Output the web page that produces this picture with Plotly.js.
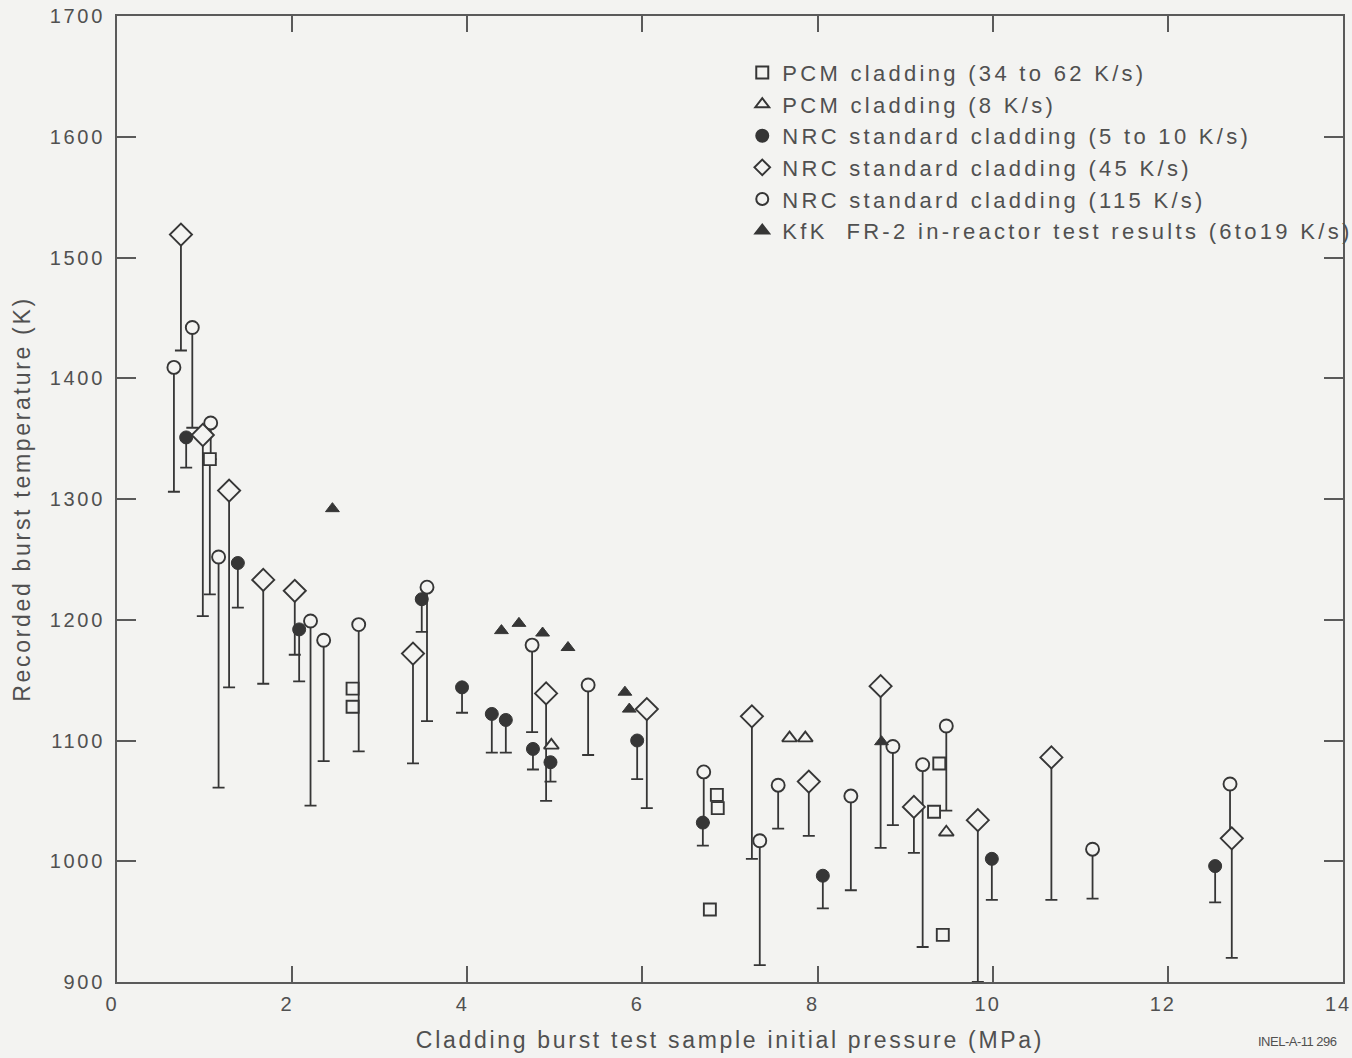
<!DOCTYPE html>
<html>
<head>
<meta charset="utf-8">
<script src="https://cdn.plot.ly/plotly-3.0.1.min.js"></script>
<style>
  html, body { margin: 0; padding: 0; background: #f3f3f1; }
  svg text { letter-spacing: 2.7px; }
  svg text.legendtext { letter-spacing: 3.3px; }
  svg g.xtick text { letter-spacing: 2px; }
  svg text.annotation-text { letter-spacing: -0.5px; }
</style>
</head>
<body>
<div id="chart" style="width:1352px;height:1058px;"></div>
<script>
// ---- Data (pressure MPa, burst temperature K, lower end of range K) ----
// PCM cladding (34 to 62 K/s) - open squares
const pcmFastX = [1.06, 2.69, 2.69, 6.85, 6.86, 6.77, 9.39, 9.33, 9.43];
const pcmFastY = [1333, 1143, 1128, 1055, 1044, 960, 1081, 1041, 939];
const pcmFastLow = [1221, null, null, null, null, null, null, null, null];

// PCM cladding (8 K/s) - open triangles
const pcmSlowX = [4.96, 7.68, 7.86, 9.47];
const pcmSlowY = [1096, 1102, 1102, 1024];

// NRC standard cladding (5 to 10 K/s) - filled circles
const nrcSlowX = [0.79, 1.38, 2.08, 3.48, 3.94, 4.28, 4.44, 4.75, 4.95, 5.94, 6.69, 8.06, 9.99, 12.54];
const nrcSlowY = [1351, 1247, 1192, 1217, 1144, 1122, 1117, 1093, 1082, 1100, 1032, 988, 1002, 996];
const nrcSlowLow = [1326, 1210, 1149, 1190, 1123, 1090, 1090, 1076, 1066, 1068, 1013, 961, 968, 966];

// NRC standard cladding (45 K/s) - open diamonds
const nrcMidX = [0.73, 0.98, 1.28, 1.67, 2.03, 3.38, 4.90, 6.05, 7.25, 7.90, 8.72, 9.10, 9.83, 10.67, 12.73];
const nrcMidY = [1519, 1353, 1307, 1233, 1224, 1172, 1139, 1126, 1120, 1066, 1145, 1045, 1034, 1086, 1019];
const nrcMidLow = [1423, 1203, 1144, 1147, 1171, 1081, 1050, 1044, 1002, 1021, 1011, 1007, 900, 968, 920];

// NRC standard cladding (115 K/s) - open circles
const nrcFastX = [0.65, 0.86, 1.07, 1.16, 2.21, 2.36, 2.76, 3.54, 4.74, 5.38, 6.70, 7.34, 7.55, 8.38, 8.86, 9.20, 9.47, 11.14, 12.71];
const nrcFastY = [1409, 1442, 1363, 1252, 1199, 1183, 1196, 1227, 1179, 1146, 1074, 1017, 1063, 1054, 1095, 1080, 1112, 1010, 1064];
const nrcFastLow = [1306, 1359, 1333, 1061, 1046, 1083, 1091, 1116, 1107, 1088, 1032, 914, 1027, 976, 1030, 929, 1042, 969, 1019];

// KfK FR-2 in-reactor test results (6 to 19 K/s) - filled triangles
const kfkX = [2.46, 4.39, 4.59, 4.86, 5.15, 5.80, 5.85, 8.73];
const kfkY = [1292, 1191, 1197, 1189, 1177, 1140, 1126, 1099];

const seriesNames = [
  'PCM cladding (34 to 62 K/s)',
  'PCM cladding (8 K/s)',
  'NRC standard cladding (5 to 10 K/s)',
  'NRC standard cladding (45 K/s)',
  'NRC standard cladding (115 K/s)',
  'KfK  FR-2 in-reactor test results (6to19 K/s)'
];
const xTickVals = [0, 2, 4, 6, 8, 10, 12, 14];
const yTickVals = [900, 1000, 1100, 1200, 1300, 1400, 1500, 1600, 1700];

// ---- Styling ----
const INK = '#363636';
const AXIS = '#5a5a5a';
const BG = '#f3f3f1';
const TXT = '#505050';
const FONT = 'Liberation Sans, Arial, Helvetica, sans-serif';

function downErr(y, low) {
  const minus = y.map((v, i) => (low[i] === null || low[i] === undefined) ? NaN : v - low[i]);
  const plus = low.map(l => (l === null || l === undefined) ? NaN : 0);
  return {
    type: 'data', symmetric: false, array: plus, arrayminus: minus,
    color: INK, thickness: 1.8, width: 6
  };
}

function openMarker(symbol, size) {
  return { symbol: symbol, size: size, color: BG, line: { color: INK, width: 1.9 } };
}
function solidMarker(symbol, size) {
  return { symbol: symbol, size: size, color: INK, line: { color: INK, width: 1 } };
}

// drawing order: open circles first so later markers cover their ends; legend order via legendrank
const traces = [
  {
    type: 'scatter', mode: 'markers', name: seriesNames[4], legendrank: 5,
    x: nrcFastX, y: nrcFastY, error_y: downErr(nrcFastY, nrcFastLow),
    marker: openMarker('circle', 13)
  },
  {
    type: 'scatter', mode: 'markers', name: seriesNames[3], legendrank: 4,
    x: nrcMidX, y: nrcMidY, error_y: downErr(nrcMidY, nrcMidLow),
    marker: openMarker('diamond', 17)
  },
  {
    type: 'scatter', mode: 'markers', name: seriesNames[2], legendrank: 3,
    x: nrcSlowX, y: nrcSlowY, error_y: downErr(nrcSlowY, nrcSlowLow),
    marker: solidMarker('circle', 13)
  },
  {
    type: 'scatter', mode: 'markers', name: seriesNames[0], legendrank: 1,
    x: pcmFastX, y: pcmFastY, error_y: downErr(pcmFastY, pcmFastLow),
    marker: openMarker('square', 12)
  },
  {
    type: 'scatter', mode: 'markers', name: seriesNames[1], legendrank: 2,
    x: pcmSlowX, y: pcmSlowY,
    marker: openMarker('triangle-up', 13)
  },
  {
    type: 'scatter', mode: 'markers', name: seriesNames[5], legendrank: 6,
    x: kfkX, y: kfkY,
    marker: solidMarker('triangle-up', 12)
  }
];

const axisCommon = {
  showgrid: false, zeroline: false,
  showline: true, linecolor: AXIS, linewidth: 2,
  mirror: 'ticks', ticks: 'inside', tickcolor: AXIS, tickwidth: 2,
  ticklabeloverflow: 'allow',
  tickfont: { family: FONT, size: 20, color: TXT }
};

const layout = {
  width: 1352, height: 1058,
  margin: { l: 117, r: 9, t: 16, b: 76, autoexpand: false },
  paper_bgcolor: BG, plot_bgcolor: BG,
  font: { family: FONT, color: TXT },
  showlegend: true,
  legend: {
    x: 0.51, xanchor: 'left', y: 0.963, yanchor: 'top',
    bgcolor: 'rgba(0,0,0,0)', borderwidth: 0,
    font: { family: FONT, size: 22, color: TXT },
    itemsizing: 'constant', tracegroupgap: 0
  },
  xaxis: Object.assign({}, axisCommon, {
    range: [0, 14], tickmode: 'array', tickvals: xTickVals, ticklen: 16,
    ticklabelstandoff: 3, ticklabelshift: -5,
    title: { text: 'Cladding burst test sample initial pressure (MPa)', font: { family: FONT, size: 23, color: TXT }, standoff: 18 }
  }),
  yaxis: Object.assign({}, axisCommon, {
    range: [900, 1700], tickmode: 'array', tickvals: yTickVals, ticklen: 19,
    ticklabelstandoff: 6,
    title: { text: 'Recorded burst temperature (K)', font: { family: FONT, size: 23, color: TXT }, standoff: 13 }
  }),
  annotations: [{
    text: 'INEL-A-11 296', xref: 'paper', yref: 'paper',
    x: 0.997, xanchor: 'right', y: -0.062, yanchor: 'middle', showarrow: false,
    font: { family: FONT, size: 13, color: TXT }
  }]
};

Plotly.newPlot('chart', traces, layout, { displayModeBar: false, staticPlot: true });
</script>
</body>
</html>
